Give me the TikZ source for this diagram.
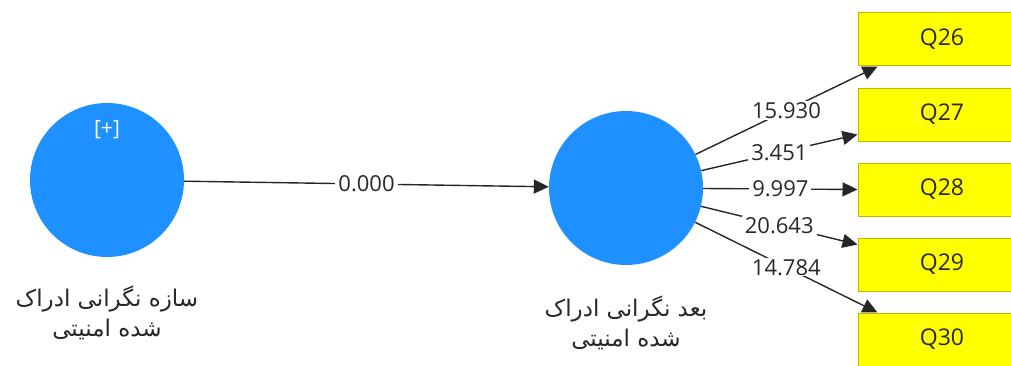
\documentclass[tikz,border=0pt]{standalone}
\usepackage{fontspec}
\setmainfont{Open Sans}
\newfontfamily\fafont[Script=Arabic]{DejaVu Sans}
\TeXXeTstate=1
\usetikzlibrary{arrows.meta}
\definecolor{lvblue}{RGB}{30,144,255}
\definecolor{itemyellow}{RGB}{255,255,0}
\definecolor{itemborder}{RGB}{185,185,0}
\definecolor{txtgray}{RGB}{40,40,40}
\tikzset{
	latent/.style={circle,fill=lvblue,minimum size=154pt,inner sep=0pt},
	item/.style={rectangle,draw=itemborder,line width=1pt,fill=itemyellow,minimum width=168pt,minimum height=53pt,font=\fontsize{23}{26}\selectfont,text=txtgray},
	arr/.style={-{Triangle[length=15pt,width=14pt]},line width=1.4pt,black!85},
	coef/.style={fill=white,inner xsep=3pt,inner ysep=1pt,font=\fontsize{22}{24}\selectfont,text=txtgray},
	lvname/.style={align=center,font=\fafont\fontsize{23}{30}\selectfont,text=txtgray}
}
\begin{document}
\begin{tikzpicture}[x=1pt,y=1pt]
		\useasboundingbox (0,0) rectangle (1011,365);
		\clip (0,0) rectangle (1011,365);
	
		\node[latent] (sazeh) at (107,185){};
		\node[font=\fontsize{21}{24}\selectfont,text=white] (plus) at (107,235){[+]};
		\node[latent] (bod) at (626,177){};
		
		\node[lvname] (sazehname) at (107,52){\beginR سازه نگرانی ادراک\endR\\\beginR شده امنیتی\endR};
		\node[lvname] (bodname) at (626,42){\beginR بعد نگرانی ادراک\endR\\\beginR شده امنیتی\endR};
		
		\node[item] (q26) at (942,325.5){Q26};
		\node[item] (q27) at (942,250.5){Q27};
		\node[item] (q28) at (942,175.5){Q28};
		\node[item] (q29) at (942,100.5){Q29};
		\node[item] (q30) at (942,25.5){Q30};
		
		\draw[arr] (sazeh) -- node[coef]{0.000} (bod);
		
		\draw[arr] (bod) -- node[coef]{15.930} ([xshift=20pt]q26.south west);
		\draw[arr] (bod) -- node[coef]{3.451} ([yshift=7pt]q27.south west);
		\draw[arr] (bod) -- node[coef]{9.997} (q28.west);
		\draw[arr] (bod) -- node[coef]{20.643} ([yshift=-7pt]q29.north west);
		\draw[arr] (bod) -- node[coef]{14.784} ([xshift=20pt]q30.north west);
	\end{tikzpicture}
\end{document}
